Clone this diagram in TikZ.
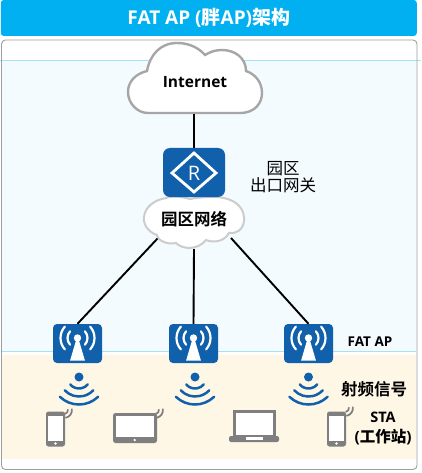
\documentclass[tikz,border=0pt]{standalone}
\usepackage{fontspec}
\setmainfont{Open Sans}
\newfontfamily\cjk{Noto Sans CJK SC}
\newfontfamily\cjkb{Noto Sans CJK SC Bold}
\definecolor{apblue}{HTML}{1160AB}
\definecolor{titleblue}{HTML}{00B0F0}
\definecolor{bandblue}{HTML}{F3FBFF}
\definecolor{bandline}{HTML}{A6E1F7}
\definecolor{bandyellow}{HTML}{FFF7E6}
\definecolor{devgrey}{HTML}{7F7F7F}
\tikzset{
 link/.style={draw=black,line width=1.9pt},
 apbox/.style={draw=none,fill=apblue,rounded corners=4pt,minimum width=49pt,minimum height=39pt,inner sep=0pt},
 routerbox/.style={draw=none,fill=apblue,rounded corners=7pt,minimum width=62pt,minimum height=49pt,inner sep=0pt},
 lab/.style={font=\bfseries,text=black,align=center,inner sep=0pt},
 pics/aerial/.style={code={
  \fill[white] (-1.5,-3) -- (1.5,-3) -- (7.4,17) -- (-7.4,17) -- cycle;
  \fill[white] (0,-5.5) circle (3.7);
  \foreach \r in {10,17}{
   \draw[white,line width=2.2pt,line cap=round] (0,-5.5)++(-42:\r) arc (-42:42:\r);
   \draw[white,line width=2.2pt,line cap=round] (0,-5.5)++(222:\r) arc (222:138:\r);}
 }},
 pics/signal/.style={code={
  \fill[apblue] (0,0) circle (4.5);
  \draw[apblue,line width=2.5pt,line cap=round] (0,0)++(90+50:11.5) arc (90+50:90-50:11.5);
  \draw[apblue,line width=2.5pt,line cap=round] (0,0)++(90+47:19.5) arc (90+47:90-47:19.5);
  \draw[apblue,line width=2.5pt,line cap=round] (0,0)++(90+44:27.5) arc (90+44:90-44:27.5);
 }},
 pics/wifi/.style={code={
  \foreach \r in {4,8}{
   \draw[devgrey,line width=1.7pt] (0,0)++(80:\r) arc (80:-10:\r);}
 }},
 pics/phone/.style={code={
  \fill[devgrey,rounded corners=2.5pt] (-9.5,-17.5) rectangle (9.5,17.5);
  \fill[white] (-7.5,-13.5) rectangle (7.5,11.5);
  \fill[white] (0,14.5) circle (1.4);
 }},
}
\begin{document}
\begin{tikzpicture}[x=1pt,y=-1pt]
\useasboundingbox (0,0) rectangle (421,473);
\fill[white] (0,0) rectangle (421,473);
% bands
\fill[bandblue] (2,60) rectangle (416,351);
\fill[bandyellow] (2,355) rectangle (416,459);
\draw[bandline,line width=.8pt] (0,60.5) -- (421,60.5);
\draw[bandline,line width=.8pt] (2,351.5) -- (416,351.5);
\draw[white!60!bandyellow,line width=.8pt] (2,353.5) -- (416,353.5);
% frame and title
\draw[black!38,line width=.9pt,rounded corners=4pt] (1.5,40) rectangle (417,469.5);
\node[fill=titleblue,rounded corners=3pt,minimum width=416pt,minimum height=36pt,inner sep=0pt,text=white,font=\bfseries\fontsize{19}{22}\selectfont] (title) at (208.8,18) {FAT AP ({\cjkb 胖}AP){\cjkb 架构}};
% internet cloud
\draw[draw=black!35,fill=white,line width=2.4pt] (148,113) -- (240,113) .. controls (255,113) and (262,103) .. (262,93) .. controls (262,82) and (255,74) .. (246,71) .. controls (246,58) and (235,50) .. (222,50) .. controls (215,50) and (210,52) .. (205,55) .. controls (198,47) and (188,43) .. (177,43) .. controls (160,43) and (150,55) .. (147,71) .. controls (135,74) and (128,82) .. (128,92) .. controls (128,103) and (137,113) .. (148,113) -- cycle;
\node[lab,font=\bfseries\fontsize{15.5}{18}\selectfont] (internet) at (195,82) {Internet};
\coordinate (inetb) at (194,114);
% campus cloud anchors
\coordinate (netb) at (194,249);
\coordinate (netl) at (158,238);
\coordinate (netr) at (231,238);
% APs
\node[apbox] (ap1) at (77.5,343.5) {};
\node[apbox] (ap2) at (193.5,343.5) {};
\node[apbox] (ap3) at (308.5,343.5) {};
% links to APs
\draw[link] (netl) -- (ap1.north);
\draw[link] (netb) -- (ap2.north);
\draw[link] (netr) -- (ap3.north);
% campus cloud
\draw[draw=black!20!white,fill=white,line width=2pt] (166,198) .. controls (172,195) and (183,197) .. (190,199) .. controls (200,197) and (215,196) .. (224,198) .. controls (238,201) and (245,210) .. (244,221) .. controls (243,230) and (236,234) .. (229,233) .. controls (224,242) and (213,243) .. (206,240) .. controls (198,250) and (183,250) .. (176,243) .. controls (168,245) and (158,241) .. (157,235) .. controls (148,232) and (143,224) .. (144,217) .. controls (145,207) and (154,200) .. (166,198) -- cycle;
% router
\node[routerbox] (router) at (194,172.5) {};
\draw[link] (inetb) -- (router.north);
\node[lab,font=\fontsize{16.5}{19}\selectfont] (net) at (194,219.5) {\cjkb 园区网络};
\node[lab,font=\fontsize{16.5}{18}\selectfont] (gwlab) at (283,177.5) {\cjk\shortstack{园区\\[-1pt]出口网关}};
% router symbol
\draw[white,line width=2.8pt,line join=miter] (194,153) -- (216,173) -- (194,192) -- (172,173) -- cycle;
\node[text=white,inner sep=0pt,font=\fontsize{20}{22}\selectfont] (rlab) at (194,173) {R};
% AP glyphs
\pic at (ap1) {aerial};
\pic at (ap2) {aerial};
\pic at (ap3) {aerial};
% signals
\pic at (79,377) {signal};
\pic at (195,377) {signal};
\pic at (308.5,377) {signal};
% phones
\pic at (55.5,429) {phone};
\pic at (336.5,429) {phone};
\pic at (64,410) {wifi};
\pic at (345,408) {wifi};
% tablet
\fill[devgrey,rounded corners=2.5pt] (113,413) rectangle (157,443);
\fill[white] (116,416) rectangle (154,437);
\fill[white] (134.7,440) circle (1.3);
\pic at (155,410) {wifi};
% laptop
\fill[devgrey] (233,410) rectangle (275.5,437);
\fill[white] (235.5,412.5) rectangle (273,435);
\fill[devgrey,rounded corners=2pt] (229,436) rectangle (279,442);
\fill[white] (245.5,437) rectangle (262.5,440);
% labels
\node[lab,font=\bfseries\fontsize{13.5}{16}\selectfont] (fatap) at (370,341.5) {FAT AP};
\node[lab,font=\fontsize{16.5}{19}\selectfont] (rf) at (374,389) {\cjkb 射频信号};
\node[lab,font=\bfseries\fontsize{14.5}{17}\selectfont] (sta) at (383,417.5) {STA};
\node[lab,font=\bfseries\fontsize{15.5}{18}\selectfont] (stb) at (383,437) {({\cjkb 工作站})};
\end{tikzpicture}
\end{document}
